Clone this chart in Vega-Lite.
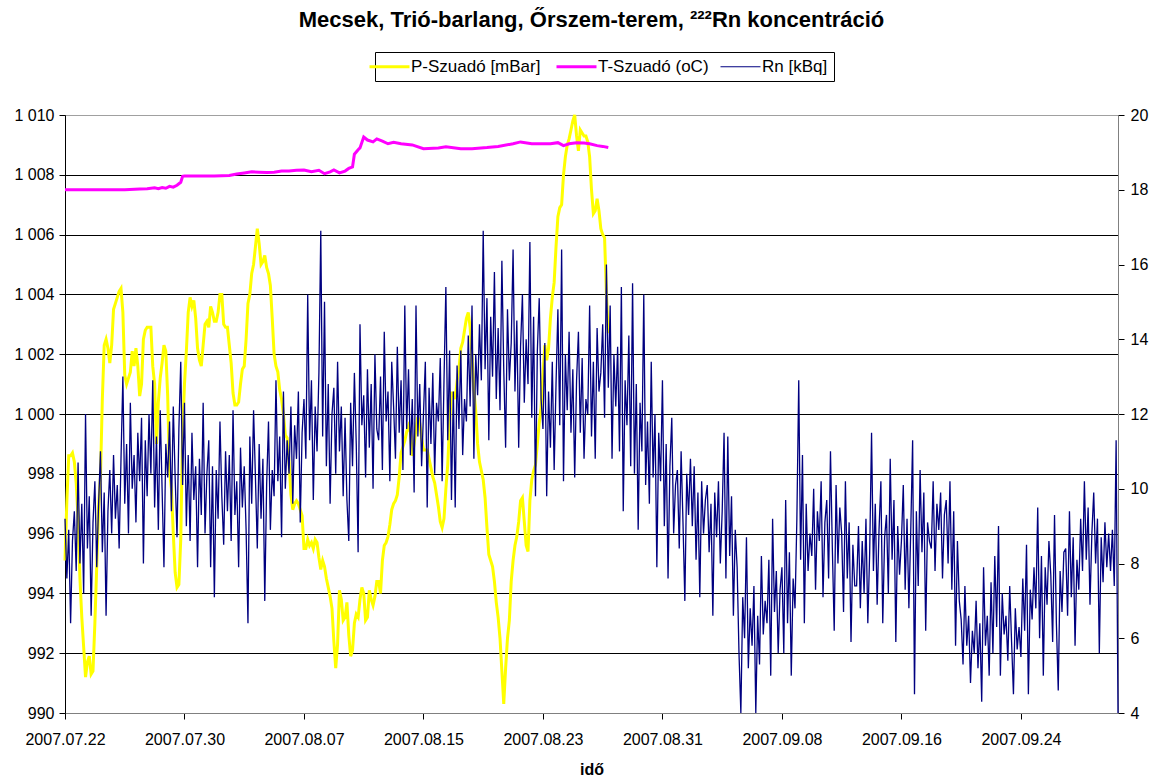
{
"$schema":"https://vega.github.io/schema/vega-lite/v6.json",
"width":1053,"height":598,
"autosize":{"type":"none"},
"padding":{"left":65,"top":115,"right":40,"bottom":68},
"background":"white",
"config":{
 "view":{"stroke":"#808080","strokeWidth":1},
 "font":"Liberation Sans",
 "axis":{"labelFont":"Liberation Sans","labelFontSize":16,"labelColor":"black","tickColor":"black","domainColor":"black","titleFont":"Liberation Sans","titleColor":"black"}
},
"title":{"text":"Mecsek, Trió-barlang, Őrszem-terem, ²²²Rn koncentráció","font":"Liberation Sans","fontSize":22,"fontWeight":"bold","color":"black","anchor":"middle","offset":20},
"data":{"values":[
{"t":"2007-07-22 00:00","rn":9.2,"p":995.1,"tc":18.0},{"t":"2007-07-22 03:00","rn":7.6,"p":997.1},{"t":"2007-07-22 06:00","rn":8.9,"p":998.6},{"t":"2007-07-22 09:00","rn":6.4,"p":998.6},{"t":"2007-07-22 12:00","rn":8.6,"p":998.7},{"t":"2007-07-22 15:00","rn":9.4,"p":998.4},{"t":"2007-07-22 18:00","rn":7.8,"p":997.7},{"t":"2007-07-22 21:00","rn":10.7,"p":996.5},
{"t":"2007-07-23 00:00","rn":8.0,"p":994.5},{"t":"2007-07-23 03:00","rn":9.6,"p":993.2},{"t":"2007-07-23 06:00","rn":7.2,"p":992.2},{"t":"2007-07-23 09:00","rn":12.0,"p":991.2},{"t":"2007-07-23 12:00","rn":8.4,"p":991.7},{"t":"2007-07-23 15:00","rn":9.8,"p":991.9},{"t":"2007-07-23 18:00","rn":6.6,"p":991.3},{"t":"2007-07-23 21:00","rn":9.1,"p":991.4},
{"t":"2007-07-24 00:00","rn":10.2,"p":993.0,"tc":18.0},{"t":"2007-07-24 03:00","rn":7.9,"p":994.9},{"t":"2007-07-24 06:00","rn":9.6,"p":996.9},{"t":"2007-07-24 09:00","rn":11.0,"p":997.9},{"t":"2007-07-24 12:00","rn":8.3,"p":1000.5},{"t":"2007-07-24 15:00","rn":9.9,"p":1002.3},{"t":"2007-07-24 18:00","rn":6.6,"p":1002.5},{"t":"2007-07-24 21:00","rn":9.4,"p":1002.2},
{"t":"2007-07-25 00:00","rn":10.5,"p":1001.7},{"t":"2007-07-25 03:00","rn":8.8,"p":1002.3},{"t":"2007-07-25 06:00","rn":10.9,"p":1003.5},{"t":"2007-07-25 09:00","rn":9.2,"p":1003.7},{"t":"2007-07-25 12:00","rn":10.1,"p":1003.9},{"t":"2007-07-25 15:00","rn":8.4,"p":1004.1},{"t":"2007-07-25 18:00","rn":10.8,"p":1004.2},{"t":"2007-07-25 21:00","rn":13.0,"p":1003.4},
{"t":"2007-07-26 00:00","rn":9.6,"p":1001.3,"tc":18.0},{"t":"2007-07-26 03:00","rn":11.2,"p":1001.0},{"t":"2007-07-26 06:00","rn":8.8,"p":1001.2},{"t":"2007-07-26 09:00","rn":12.3,"p":1001.4},{"t":"2007-07-26 12:00","rn":10.0,"p":1002.1},{"t":"2007-07-26 15:00","rn":10.9,"p":1001.6},{"t":"2007-07-26 18:00","rn":9.1,"p":1002.2},{"t":"2007-07-26 21:00","rn":11.5,"p":1001.6},
{"t":"2007-07-27 00:00","rn":10.2,"p":1000.6,"tc":18.02},{"t":"2007-07-27 03:00","rn":11.9,"p":1001.0},{"t":"2007-07-27 06:00","rn":8.0,"p":1002.5},{"t":"2007-07-27 09:00","rn":11.3,"p":1002.8},{"t":"2007-07-27 12:00","rn":9.8,"p":1002.9,"tc":18.03},{"t":"2007-07-27 15:00","rn":12.0,"p":1002.9},{"t":"2007-07-27 18:00","rn":10.4,"p":1002.9},{"t":"2007-07-27 21:00","rn":12.9,"p":1001.6},
{"t":"2007-07-28 00:00","rn":9.5,"p":1001.0,"tc":18.05},{"t":"2007-07-28 03:00","rn":11.4,"p":999.0},{"t":"2007-07-28 06:00","rn":8.9,"p":1000.4,"tc":18.03},{"t":"2007-07-28 09:00","rn":12.1,"p":1001.2},{"t":"2007-07-28 12:00","rn":10.0,"p":1001.7,"tc":18.06},{"t":"2007-07-28 15:00","rn":7.9,"p":1002.3},{"t":"2007-07-28 18:00","rn":11.2,"p":1002.1,"tc":18.04},{"t":"2007-07-28 21:00","rn":10.3,"p":1000.6},
{"t":"2007-07-29 00:00","rn":11.8,"p":998.1,"tc":18.09},{"t":"2007-07-29 03:00","rn":9.4,"p":997.5},{"t":"2007-07-29 06:00","rn":12.2,"p":996.0,"tc":18.07},{"t":"2007-07-29 09:00","rn":10.3,"p":994.7},{"t":"2007-07-29 12:00","rn":8.7,"p":994.2,"tc":18.12},{"t":"2007-07-29 15:00","rn":11.6,"p":994.3},{"t":"2007-07-29 18:00","rn":13.4,"p":995.8,"tc":18.2},{"t":"2007-07-29 21:00","rn":10.1,"p":999.4,"tc":18.36},
{"t":"2007-07-30 00:00","rn":12.3,"p":1001.0,"tc":18.37},{"t":"2007-07-30 03:00","rn":9.0,"p":1002.1},{"t":"2007-07-30 06:00","rn":10.9,"p":1003.4},{"t":"2007-07-30 09:00","rn":8.6,"p":1003.9},{"t":"2007-07-30 12:00","rn":11.5,"p":1003.6},{"t":"2007-07-30 15:00","rn":9.7,"p":1003.8},{"t":"2007-07-30 18:00","rn":10.6,"p":1003.2},{"t":"2007-07-30 21:00","rn":7.9,"p":1002.2},
{"t":"2007-07-31 00:00","rn":10.8,"p":1001.8,"tc":18.37},{"t":"2007-07-31 03:00","rn":9.3,"p":1001.6},{"t":"2007-07-31 06:00","rn":12.3,"p":1002.3},{"t":"2007-07-31 09:00","rn":8.8,"p":1003.0},{"t":"2007-07-31 12:00","rn":10.4,"p":1003.1},{"t":"2007-07-31 15:00","rn":11.3,"p":1002.9},{"t":"2007-07-31 18:00","rn":7.9,"p":1003.6},{"t":"2007-07-31 21:00","rn":10.6,"p":1003.4},
{"t":"2007-08-01 00:00","rn":7.1,"p":1003.1,"tc":18.37},{"t":"2007-08-01 03:00","rn":10.5,"p":1003.1},{"t":"2007-08-01 06:00","rn":9.2,"p":1003.4},{"t":"2007-08-01 09:00","rn":11.8,"p":1004.0},{"t":"2007-08-01 12:00","rn":9.8,"p":1004.0},{"t":"2007-08-01 15:00","rn":8.5,"p":1003.0},{"t":"2007-08-01 18:00","rn":11.0,"p":1002.9},{"t":"2007-08-01 21:00","rn":9.4,"p":1002.9},
{"t":"2007-08-02 00:00","rn":10.9,"p":1002.3,"tc":18.38},{"t":"2007-08-02 03:00","rn":8.6,"p":1001.7},{"t":"2007-08-02 06:00","rn":12.1,"p":1000.7},{"t":"2007-08-02 09:00","rn":9.3,"p":1000.3},{"t":"2007-08-02 12:00","rn":10.2,"p":1000.3,"tc":18.42},{"t":"2007-08-02 15:00","rn":7.9,"p":1000.4},{"t":"2007-08-02 18:00","rn":11.1,"p":1001.0},{"t":"2007-08-02 21:00","rn":9.5,"p":1001.5},
{"t":"2007-08-03 00:00","rn":10.6,"p":1001.6,"tc":18.45},{"t":"2007-08-03 03:00","rn":8.9,"p":1002.5},{"t":"2007-08-03 06:00","rn":6.4,"p":1003.7},{"t":"2007-08-03 09:00","rn":11.4,"p":1004.0},{"t":"2007-08-03 12:00","rn":9.6,"p":1004.7,"tc":18.48},{"t":"2007-08-03 15:00","rn":12.1,"p":1005.0},{"t":"2007-08-03 18:00","rn":10.3,"p":1005.6},{"t":"2007-08-03 21:00","rn":8.4,"p":1006.2},
{"t":"2007-08-04 00:00","rn":11.2,"p":1005.7,"tc":18.47},{"t":"2007-08-04 03:00","rn":9.2,"p":1005.0},{"t":"2007-08-04 06:00","rn":10.8,"p":1005.1},{"t":"2007-08-04 09:00","rn":7.0,"p":1005.3},{"t":"2007-08-04 12:00","rn":10.1,"p":1004.9,"tc":18.46},{"t":"2007-08-04 15:00","rn":11.8,"p":1004.7},{"t":"2007-08-04 18:00","rn":8.9,"p":1004.3},{"t":"2007-08-04 21:00","rn":10.5,"p":1003.2},
{"t":"2007-08-05 00:00","rn":9.8,"p":1002.0,"tc":18.47},{"t":"2007-08-05 03:00","rn":12.9,"p":1001.6},{"t":"2007-08-05 06:00","rn":10.2,"p":1001.4},{"t":"2007-08-05 09:00","rn":11.4,"p":1000.8},{"t":"2007-08-05 12:00","rn":8.7,"p":1000.5,"tc":18.5},{"t":"2007-08-05 15:00","rn":12.6,"p":1000.0},{"t":"2007-08-05 18:00","rn":10.0,"p":999.3},{"t":"2007-08-05 21:00","rn":11.3,"p":999.2},
{"t":"2007-08-06 00:00","rn":10.4,"p":998.4,"tc":18.5},{"t":"2007-08-06 03:00","rn":12.2,"p":997.3},{"t":"2007-08-06 06:00","rn":9.6,"p":996.8},{"t":"2007-08-06 09:00","rn":11.7,"p":997.0},{"t":"2007-08-06 12:00","rn":10.8,"p":997.1,"tc":18.52},{"t":"2007-08-06 15:00","rn":12.6,"p":997.0},{"t":"2007-08-06 18:00","rn":9.1,"p":996.8},{"t":"2007-08-06 21:00","rn":11.5,"p":996.6},
{"t":"2007-08-07 00:00","rn":12.4,"p":995.5,"tc":18.53},{"t":"2007-08-07 03:00","rn":10.8,"p":995.5},{"t":"2007-08-07 06:00","rn":15.2,"p":995.8},{"t":"2007-08-07 09:00","rn":11.3,"p":995.6},{"t":"2007-08-07 12:00","rn":12.9,"p":995.7,"tc":18.48},{"t":"2007-08-07 15:00","rn":9.7,"p":995.5},{"t":"2007-08-07 18:00","rn":12.2,"p":995.8},{"t":"2007-08-07 21:00","rn":11.0,"p":995.7},
{"t":"2007-08-08 00:00","rn":13.1,"p":995.2,"tc":18.52},{"t":"2007-08-08 03:00","rn":16.9,"p":994.8},{"t":"2007-08-08 06:00","rn":11.4,"p":995.1},{"t":"2007-08-08 09:00","rn":15.0,"p":994.9,"tc":18.43},{"t":"2007-08-08 12:00","rn":10.6,"p":994.5},{"t":"2007-08-08 15:00","rn":12.8,"p":994.2},{"t":"2007-08-08 18:00","rn":9.6,"p":993.9,"tc":18.48},{"t":"2007-08-08 21:00","rn":12.0,"p":993.5},
{"t":"2007-08-09 00:00","rn":12.7,"p":992.4,"tc":18.53},{"t":"2007-08-09 03:00","rn":10.4,"p":991.5},{"t":"2007-08-09 06:00","rn":13.4,"p":992.3},{"t":"2007-08-09 09:00","rn":11.0,"p":994.1,"tc":18.45},{"t":"2007-08-09 12:00","rn":12.2,"p":993.8},{"t":"2007-08-09 15:00","rn":9.8,"p":993.1},{"t":"2007-08-09 18:00","rn":11.9,"p":993.2,"tc":18.5},{"t":"2007-08-09 21:00","rn":9.7,"p":993.7},
{"t":"2007-08-10 00:00","rn":8.6,"p":992.6,"tc":18.57},{"t":"2007-08-10 03:00","rn":12.3,"p":991.9},{"t":"2007-08-10 06:00","rn":10.6,"p":992.1,"tc":18.61},{"t":"2007-08-10 09:00","rn":13.1,"p":993.0,"tc":18.95},{"t":"2007-08-10 12:00","rn":11.2,"p":993.3},{"t":"2007-08-10 15:00","rn":8.3,"p":993.2,"tc":19.07},{"t":"2007-08-10 18:00","rn":14.4,"p":993.8,"tc":19.12},{"t":"2007-08-10 21:00","rn":11.7,"p":994.2},
{"t":"2007-08-11 00:00","rn":12.5,"p":994.0,"tc":19.41},{"t":"2007-08-11 03:00","rn":10.3,"p":993.1},{"t":"2007-08-11 06:00","rn":13.2,"p":993.2,"tc":19.33},{"t":"2007-08-11 09:00","rn":11.1,"p":994.1},{"t":"2007-08-11 12:00","rn":12.8,"p":993.8},{"t":"2007-08-11 15:00","rn":10.0,"p":993.6,"tc":19.28},{"t":"2007-08-11 18:00","rn":13.6,"p":993.9},{"t":"2007-08-11 21:00","rn":11.6,"p":994.4,"tc":19.36},
{"t":"2007-08-12 00:00","rn":11.3,"p":994.4},{"t":"2007-08-12 03:00","rn":13.0,"p":994.0},{"t":"2007-08-12 06:00","rn":10.5,"p":995.1,"tc":19.3},{"t":"2007-08-12 09:00","rn":14.2,"p":995.6},{"t":"2007-08-12 12:00","rn":11.8,"p":995.7},{"t":"2007-08-12 15:00","rn":12.6,"p":995.9,"tc":19.23},{"t":"2007-08-12 18:00","rn":10.2,"p":996.3},{"t":"2007-08-12 21:00","rn":13.4,"p":996.8},
{"t":"2007-08-13 00:00","rn":12.2,"p":997.0,"tc":19.27},{"t":"2007-08-13 03:00","rn":10.8,"p":997.1},{"t":"2007-08-13 06:00","rn":13.8,"p":997.3},{"t":"2007-08-13 09:00","rn":11.5,"p":997.9},{"t":"2007-08-13 12:00","rn":12.9,"p":998.7,"tc":19.23},{"t":"2007-08-13 15:00","rn":10.5,"p":998.9},{"t":"2007-08-13 18:00","rn":14.9,"p":999.1},{"t":"2007-08-13 21:00","rn":11.6,"p":999.4},
{"t":"2007-08-14 00:00","rn":13.2,"p":999.6},{"t":"2007-08-14 03:00","rn":10.9,"p":999.4},{"t":"2007-08-14 06:00","rn":12.4,"p":998.6,"tc":19.2},{"t":"2007-08-14 09:00","rn":9.9,"p":999.0},{"t":"2007-08-14 12:00","rn":14.9,"p":999.5},{"t":"2007-08-14 15:00","rn":11.4,"p":999.9},{"t":"2007-08-14 18:00","rn":12.8,"p":999.7},{"t":"2007-08-14 21:00","rn":10.6,"p":999.2},
{"t":"2007-08-15 00:00","rn":12.0,"p":998.8,"tc":19.1},{"t":"2007-08-15 03:00","rn":13.4,"p":998.8},{"t":"2007-08-15 06:00","rn":9.5,"p":998.8},{"t":"2007-08-15 09:00","rn":12.7,"p":998.5},{"t":"2007-08-15 12:00","rn":11.2,"p":998.2},{"t":"2007-08-15 15:00","rn":13.1,"p":997.9},{"t":"2007-08-15 18:00","rn":10.4,"p":997.7},{"t":"2007-08-15 21:00","rn":12.3,"p":997.3},
{"t":"2007-08-16 00:00","rn":11.8,"p":996.9,"tc":19.12},{"t":"2007-08-16 03:00","rn":13.5,"p":996.4},{"t":"2007-08-16 06:00","rn":10.2,"p":996.2},{"t":"2007-08-16 09:00","rn":12.9,"p":996.5},{"t":"2007-08-16 12:00","rn":15.4,"p":997.5,"tc":19.15},{"t":"2007-08-16 15:00","rn":11.3,"p":998.3},{"t":"2007-08-16 18:00","rn":13.7,"p":999.7},{"t":"2007-08-16 21:00","rn":9.7,"p":1000.7},
{"t":"2007-08-17 00:00","rn":12.6,"p":1000.7},{"t":"2007-08-17 03:00","rn":9.5,"p":1000.5},{"t":"2007-08-17 06:00","rn":13.3,"p":1001.1},{"t":"2007-08-17 09:00","rn":11.6,"p":1001.5},{"t":"2007-08-17 12:00","rn":13.7,"p":1002.2,"tc":19.1},{"t":"2007-08-17 15:00","rn":10.9,"p":1002.4},{"t":"2007-08-17 18:00","rn":12.4,"p":1002.8},{"t":"2007-08-17 21:00","rn":11.8,"p":1003.2},
{"t":"2007-08-18 00:00","rn":14.1,"p":1003.4},{"t":"2007-08-18 03:00","rn":12.2,"p":1002.9},{"t":"2007-08-18 06:00","rn":14.9,"p":1001.9,"tc":19.1},{"t":"2007-08-18 09:00","rn":10.8,"p":1000.8},{"t":"2007-08-18 12:00","rn":13.6,"p":1000.1},{"t":"2007-08-18 15:00","rn":12.5,"p":999.0},{"t":"2007-08-18 18:00","rn":14.4,"p":998.4},{"t":"2007-08-18 21:00","rn":12.9,"p":998.1},
{"t":"2007-08-19 00:00","rn":16.9,"p":997.8},{"t":"2007-08-19 03:00","rn":13.2,"p":997.2},{"t":"2007-08-19 06:00","rn":15.1,"p":996.2,"tc":19.13},{"t":"2007-08-19 09:00","rn":11.3,"p":995.3},{"t":"2007-08-19 12:00","rn":14.6,"p":995.1},{"t":"2007-08-19 15:00","rn":13.0,"p":994.9},{"t":"2007-08-19 18:00","rn":15.8,"p":994.4},{"t":"2007-08-19 21:00","rn":12.4,"p":993.7},
{"t":"2007-08-20 00:00","rn":14.3,"p":993.2,"tc":19.16},{"t":"2007-08-20 03:00","rn":12.1,"p":992.5},{"t":"2007-08-20 06:00","rn":16.1,"p":991.4},{"t":"2007-08-20 09:00","rn":13.2,"p":990.3},{"t":"2007-08-20 12:00","rn":11.1,"p":991.5},{"t":"2007-08-20 15:00","rn":14.8,"p":992.5},{"t":"2007-08-20 18:00","rn":12.9,"p":993.1},{"t":"2007-08-20 21:00","rn":13.9,"p":994.4},
{"t":"2007-08-21 00:00","rn":16.4,"p":995.1,"tc":19.23},{"t":"2007-08-21 03:00","rn":12.6,"p":995.6},{"t":"2007-08-21 06:00","rn":14.5,"p":995.9},{"t":"2007-08-21 09:00","rn":11.1,"p":996.4},{"t":"2007-08-21 12:00","rn":13.8,"p":997.1,"tc":19.28},{"t":"2007-08-21 15:00","rn":15.2,"p":997.2},{"t":"2007-08-21 18:00","rn":12.3,"p":996.4},{"t":"2007-08-21 21:00","rn":14.0,"p":995.6},
{"t":"2007-08-22 00:00","rn":12.8,"p":995.4},{"t":"2007-08-22 03:00","rn":16.6,"p":997.1},{"t":"2007-08-22 06:00","rn":11.9,"p":997.8,"tc":19.23},{"t":"2007-08-22 09:00","rn":14.6,"p":998.1},{"t":"2007-08-22 12:00","rn":9.8,"p":998.3},{"t":"2007-08-22 15:00","rn":13.7,"p":999.0},{"t":"2007-08-22 18:00","rn":15.1,"p":999.7},{"t":"2007-08-22 21:00","rn":12.4,"p":1000.2},
{"t":"2007-08-23 00:00","rn":11.6,"p":1001.3},{"t":"2007-08-23 03:00","rn":13.9,"p":1002.3},{"t":"2007-08-23 06:00","rn":9.8,"p":1001.8},{"t":"2007-08-23 09:00","rn":12.6,"p":1002.2},{"t":"2007-08-23 12:00","rn":11.1,"p":1003.2,"tc":19.23},{"t":"2007-08-23 15:00","rn":13.4,"p":1003.9},{"t":"2007-08-23 18:00","rn":10.5,"p":1004.4},{"t":"2007-08-23 21:00","rn":12.8,"p":1005.6},
{"t":"2007-08-24 00:00","rn":14.8,"p":1006.6,"tc":19.26},{"t":"2007-08-24 03:00","rn":11.7,"p":1006.9},{"t":"2007-08-24 06:00","rn":16.4,"p":1007.0},{"t":"2007-08-24 09:00","rn":10.2,"p":1008.0,"tc":19.18},{"t":"2007-08-24 12:00","rn":13.6,"p":1008.6},{"t":"2007-08-24 15:00","rn":12.1,"p":1009.0},{"t":"2007-08-24 18:00","rn":14.2,"p":1009.2,"tc":19.23},{"t":"2007-08-24 21:00","rn":11.5,"p":1009.5},
{"t":"2007-08-25 00:00","rn":13.2,"p":1009.8},{"t":"2007-08-25 03:00","rn":10.3,"p":1010.0},{"t":"2007-08-25 06:00","rn":12.9,"p":1009.3,"tc":19.26},{"t":"2007-08-25 09:00","rn":14.2,"p":1008.8},{"t":"2007-08-25 12:00","rn":11.5,"p":1009.5},{"t":"2007-08-25 15:00","rn":13.5,"p":1009.4},{"t":"2007-08-25 18:00","rn":10.8,"p":1009.3,"tc":19.25},{"t":"2007-08-25 21:00","rn":12.4,"p":1009.3},
{"t":"2007-08-26 00:00","rn":12.0,"p":1009.1},{"t":"2007-08-26 03:00","rn":14.9,"p":1008.6,"tc":19.23},{"t":"2007-08-26 06:00","rn":11.4,"p":1007.5},{"t":"2007-08-26 09:00","rn":13.4,"p":1006.7},{"t":"2007-08-26 12:00","rn":10.8,"p":1006.8},{"t":"2007-08-26 15:00","rn":14.3,"p":1007.2,"tc":19.18},{"t":"2007-08-26 18:00","rn":12.6,"p":1006.8},{"t":"2007-08-26 21:00","rn":13.1,"p":1006.2},
{"t":"2007-08-27 00:00","rn":14.4,"p":1006.0,"tc":19.16},{"t":"2007-08-27 03:00","rn":11.9,"p":1005.9},{"t":"2007-08-27 06:00","rn":16.0,"p":1004.0},{"t":"2007-08-27 09:00","rn":12.7,"p":1002.7,"tc":19.13},{"t":"2007-08-27 12:00","rn":14.9},{"t":"2007-08-27 15:00","rn":10.8},{"t":"2007-08-27 18:00","rn":13.6},{"t":"2007-08-27 21:00","rn":12.2},
{"t":"2007-08-28 00:00","rn":13.8},{"t":"2007-08-28 03:00","rn":11.0},{"t":"2007-08-28 06:00","rn":15.4},{"t":"2007-08-28 09:00","rn":9.4},{"t":"2007-08-28 12:00","rn":12.9},{"t":"2007-08-28 15:00","rn":11.7},{"t":"2007-08-28 18:00","rn":14.1},{"t":"2007-08-28 21:00","rn":10.6},
{"t":"2007-08-29 00:00","rn":15.5},{"t":"2007-08-29 03:00","rn":10.4},{"t":"2007-08-29 06:00","rn":12.8},{"t":"2007-08-29 09:00","rn":8.9},{"t":"2007-08-29 12:00","rn":12.3},{"t":"2007-08-29 15:00","rn":11.0},{"t":"2007-08-29 18:00","rn":15.2},{"t":"2007-08-29 21:00","rn":10.1},
{"t":"2007-08-30 00:00","rn":11.8},{"t":"2007-08-30 03:00","rn":9.6},{"t":"2007-08-30 06:00","rn":13.4},{"t":"2007-08-30 09:00","rn":10.3},{"t":"2007-08-30 12:00","rn":12.0},{"t":"2007-08-30 15:00","rn":7.9},{"t":"2007-08-30 18:00","rn":11.5},{"t":"2007-08-30 21:00","rn":10.2},
{"t":"2007-08-31 00:00","rn":12.9},{"t":"2007-08-31 03:00","rn":9.0},{"t":"2007-08-31 06:00","rn":11.2},{"t":"2007-08-31 09:00","rn":7.6},{"t":"2007-08-31 12:00","rn":10.6},{"t":"2007-08-31 15:00","rn":11.9},{"t":"2007-08-31 18:00","rn":8.8},{"t":"2007-08-31 21:00","rn":10.1},
{"t":"2007-09-01 00:00","rn":10.5},{"t":"2007-09-01 03:00","rn":8.4},{"t":"2007-09-01 06:00","rn":11.0},{"t":"2007-09-01 09:00","rn":9.1},{"t":"2007-09-01 12:00","rn":7.0},{"t":"2007-09-01 15:00","rn":10.4},{"t":"2007-09-01 18:00","rn":9.3},{"t":"2007-09-01 21:00","rn":10.8},
{"t":"2007-09-02 00:00","rn":9.0},{"t":"2007-09-02 03:00","rn":10.6},{"t":"2007-09-02 06:00","rn":8.1},{"t":"2007-09-02 09:00","rn":9.9},{"t":"2007-09-02 12:00","rn":7.1},{"t":"2007-09-02 15:00","rn":10.2},{"t":"2007-09-02 18:00","rn":8.8},{"t":"2007-09-02 21:00","rn":9.7},
{"t":"2007-09-03 00:00","rn":10.1},{"t":"2007-09-03 03:00","rn":8.3},{"t":"2007-09-03 06:00","rn":9.6},{"t":"2007-09-03 09:00","rn":6.6},{"t":"2007-09-03 12:00","rn":9.9},{"t":"2007-09-03 15:00","rn":8.7},{"t":"2007-09-03 18:00","rn":10.2},{"t":"2007-09-03 21:00","rn":8.0},
{"t":"2007-09-04 00:00","rn":9.4},{"t":"2007-09-04 03:00","rn":11.5},{"t":"2007-09-04 06:00","rn":7.6},{"t":"2007-09-04 09:00","rn":11.4},{"t":"2007-09-04 12:00","rn":8.2},{"t":"2007-09-04 15:00","rn":9.8},{"t":"2007-09-04 18:00","rn":6.6},{"t":"2007-09-04 21:00","rn":8.9},
{"t":"2007-09-05 00:00","rn":7.9},{"t":"2007-09-05 03:00","rn":5.6},{"t":"2007-09-05 06:00","rn":4.0},{"t":"2007-09-05 09:00","rn":7.1},{"t":"2007-09-05 12:00","rn":6.0},{"t":"2007-09-05 15:00","rn":8.7},{"t":"2007-09-05 18:00","rn":5.2},{"t":"2007-09-05 21:00","rn":6.8},
{"t":"2007-09-06 00:00","rn":5.8},{"t":"2007-09-06 03:00","rn":7.4},{"t":"2007-09-06 06:00","rn":4.0},{"t":"2007-09-06 09:00","rn":6.6},{"t":"2007-09-06 12:00","rn":5.3},{"t":"2007-09-06 15:00","rn":8.2},{"t":"2007-09-06 18:00","rn":6.1},{"t":"2007-09-06 21:00","rn":7.0},
{"t":"2007-09-07 00:00","rn":6.4},{"t":"2007-09-07 03:00","rn":8.1},{"t":"2007-09-07 06:00","rn":5.0},{"t":"2007-09-07 09:00","rn":9.2},{"t":"2007-09-07 12:00","rn":6.7},{"t":"2007-09-07 15:00","rn":7.8},{"t":"2007-09-07 18:00","rn":5.6},{"t":"2007-09-07 21:00","rn":7.3},
{"t":"2007-09-08 00:00","rn":7.9},{"t":"2007-09-08 03:00","rn":5.6},{"t":"2007-09-08 06:00","rn":9.7},{"t":"2007-09-08 09:00","rn":6.4},{"t":"2007-09-08 12:00","rn":8.3},{"t":"2007-09-08 15:00","rn":5.0},{"t":"2007-09-08 18:00","rn":7.6},{"t":"2007-09-08 21:00","rn":6.8},
{"t":"2007-09-09 00:00","rn":9.2},{"t":"2007-09-09 03:00","rn":12.9},{"t":"2007-09-09 06:00","rn":8.1},{"t":"2007-09-09 09:00","rn":10.9},{"t":"2007-09-09 12:00","rn":6.4},{"t":"2007-09-09 15:00","rn":9.6},{"t":"2007-09-09 18:00","rn":7.8},{"t":"2007-09-09 21:00","rn":8.8},
{"t":"2007-09-10 00:00","rn":8.2},{"t":"2007-09-10 03:00","rn":10.0},{"t":"2007-09-10 06:00","rn":7.3},{"t":"2007-09-10 09:00","rn":9.4},{"t":"2007-09-10 12:00","rn":8.6},{"t":"2007-09-10 15:00","rn":10.2},{"t":"2007-09-10 18:00","rn":7.1},{"t":"2007-09-10 21:00","rn":9.1},
{"t":"2007-09-11 00:00","rn":9.7},{"t":"2007-09-11 03:00","rn":7.6},{"t":"2007-09-11 06:00","rn":11.0},{"t":"2007-09-11 09:00","rn":8.4},{"t":"2007-09-11 12:00","rn":6.2},{"t":"2007-09-11 15:00","rn":10.1},{"t":"2007-09-11 18:00","rn":8.0},{"t":"2007-09-11 21:00","rn":9.5},
{"t":"2007-09-12 00:00","rn":8.8},{"t":"2007-09-12 03:00","rn":6.7},{"t":"2007-09-12 06:00","rn":10.2},{"t":"2007-09-12 09:00","rn":7.6},{"t":"2007-09-12 12:00","rn":9.1},{"t":"2007-09-12 15:00","rn":5.9},{"t":"2007-09-12 18:00","rn":8.5},{"t":"2007-09-12 21:00","rn":7.4},
{"t":"2007-09-13 00:00","rn":7.4},{"t":"2007-09-13 03:00","rn":9.0},{"t":"2007-09-13 06:00","rn":6.8},{"t":"2007-09-13 09:00","rn":8.6},{"t":"2007-09-13 12:00","rn":7.2},{"t":"2007-09-13 15:00","rn":9.2},{"t":"2007-09-13 18:00","rn":6.4},{"t":"2007-09-13 21:00","rn":8.3},
{"t":"2007-09-14 00:00","rn":11.5},{"t":"2007-09-14 03:00","rn":7.8},{"t":"2007-09-14 06:00","rn":9.6},{"t":"2007-09-14 09:00","rn":6.9},{"t":"2007-09-14 12:00","rn":8.9},{"t":"2007-09-14 15:00","rn":10.2},{"t":"2007-09-14 18:00","rn":6.4},{"t":"2007-09-14 21:00","rn":8.7},
{"t":"2007-09-15 00:00","rn":9.3},{"t":"2007-09-15 03:00","rn":7.2},{"t":"2007-09-15 06:00","rn":10.8},{"t":"2007-09-15 09:00","rn":8.1},{"t":"2007-09-15 12:00","rn":9.7},{"t":"2007-09-15 15:00","rn":5.9},{"t":"2007-09-15 18:00","rn":9.0},{"t":"2007-09-15 21:00","rn":7.7},
{"t":"2007-09-16 00:00","rn":8.6},{"t":"2007-09-16 03:00","rn":10.1},{"t":"2007-09-16 06:00","rn":7.3},{"t":"2007-09-16 09:00","rn":9.2},{"t":"2007-09-16 12:00","rn":6.8},{"t":"2007-09-16 15:00","rn":8.9},{"t":"2007-09-16 18:00","rn":11.3},{"t":"2007-09-16 21:00","rn":4.5},
{"t":"2007-09-17 00:00","rn":9.4},{"t":"2007-09-17 03:00","rn":7.4},{"t":"2007-09-17 06:00","rn":10.5},{"t":"2007-09-17 09:00","rn":8.3},{"t":"2007-09-17 12:00","rn":9.9},{"t":"2007-09-17 15:00","rn":6.2},{"t":"2007-09-17 18:00","rn":9.1},{"t":"2007-09-17 21:00","rn":8.6},
{"t":"2007-09-18 00:00","rn":8.4},{"t":"2007-09-18 03:00","rn":10.2},{"t":"2007-09-18 06:00","rn":7.8},{"t":"2007-09-18 09:00","rn":9.6},{"t":"2007-09-18 12:00","rn":8.9},{"t":"2007-09-18 15:00","rn":9.9},{"t":"2007-09-18 18:00","rn":7.6},{"t":"2007-09-18 21:00","rn":9.3},
{"t":"2007-09-19 00:00","rn":9.7},{"t":"2007-09-19 03:00","rn":8.0},{"t":"2007-09-19 06:00","rn":10.2},{"t":"2007-09-19 09:00","rn":7.3},{"t":"2007-09-19 12:00","rn":9.4},{"t":"2007-09-19 15:00","rn":5.8},{"t":"2007-09-19 18:00","rn":8.6},{"t":"2007-09-19 21:00","rn":7.0},
{"t":"2007-09-20 00:00","rn":6.5},{"t":"2007-09-20 03:00","rn":5.3},{"t":"2007-09-20 06:00","rn":7.4},{"t":"2007-09-20 09:00","rn":5.8},{"t":"2007-09-20 12:00","rn":6.6},{"t":"2007-09-20 15:00","rn":4.8},{"t":"2007-09-20 18:00","rn":6.2},{"t":"2007-09-20 21:00","rn":5.6},
{"t":"2007-09-21 00:00","rn":7.0},{"t":"2007-09-21 03:00","rn":5.2},{"t":"2007-09-21 06:00","rn":6.4},{"t":"2007-09-21 09:00","rn":4.3},{"t":"2007-09-21 12:00","rn":7.9},{"t":"2007-09-21 15:00","rn":5.8},{"t":"2007-09-21 18:00","rn":6.6},{"t":"2007-09-21 21:00","rn":5.0},
{"t":"2007-09-22 00:00","rn":7.5},{"t":"2007-09-22 03:00","rn":5.6},{"t":"2007-09-22 06:00","rn":8.2},{"t":"2007-09-22 09:00","rn":6.3},{"t":"2007-09-22 12:00","rn":9.0},{"t":"2007-09-22 15:00","rn":5.0},{"t":"2007-09-22 18:00","rn":7.2},{"t":"2007-09-22 21:00","rn":6.1},
{"t":"2007-09-23 00:00","rn":6.6},{"t":"2007-09-23 03:00","rn":5.4},{"t":"2007-09-23 06:00","rn":7.4},{"t":"2007-09-23 09:00","rn":5.9},{"t":"2007-09-23 12:00","rn":4.5},{"t":"2007-09-23 15:00","rn":6.8},{"t":"2007-09-23 18:00","rn":5.7},{"t":"2007-09-23 21:00","rn":6.3},
{"t":"2007-09-24 00:00","rn":5.5},{"t":"2007-09-24 03:00","rn":7.6},{"t":"2007-09-24 06:00","rn":6.2},{"t":"2007-09-24 09:00","rn":8.5},{"t":"2007-09-24 12:00","rn":4.5},{"t":"2007-09-24 15:00","rn":7.3},{"t":"2007-09-24 18:00","rn":6.5},{"t":"2007-09-24 21:00","rn":7.9},
{"t":"2007-09-25 00:00","rn":6.8},{"t":"2007-09-25 03:00","rn":9.5},{"t":"2007-09-25 06:00","rn":6.0},{"t":"2007-09-25 09:00","rn":8.2},{"t":"2007-09-25 12:00","rn":5.0},{"t":"2007-09-25 15:00","rn":7.9},{"t":"2007-09-25 18:00","rn":6.9},{"t":"2007-09-25 21:00","rn":8.6},
{"t":"2007-09-26 00:00","rn":7.7},{"t":"2007-09-26 03:00","rn":5.9},{"t":"2007-09-26 06:00","rn":9.3},{"t":"2007-09-26 09:00","rn":6.4},{"t":"2007-09-26 12:00","rn":4.6},{"t":"2007-09-26 15:00","rn":7.8},{"t":"2007-09-26 18:00","rn":6.7},{"t":"2007-09-26 21:00","rn":8.3},
{"t":"2007-09-27 00:00","rn":8.4},{"t":"2007-09-27 03:00","rn":6.6},{"t":"2007-09-27 06:00","rn":9.4},{"t":"2007-09-27 09:00","rn":7.1},{"t":"2007-09-27 12:00","rn":8.7},{"t":"2007-09-27 15:00","rn":5.8},{"t":"2007-09-27 18:00","rn":8.1},{"t":"2007-09-27 21:00","rn":7.3},
{"t":"2007-09-28 00:00","rn":9.2},{"t":"2007-09-28 03:00","rn":7.8},{"t":"2007-09-28 06:00","rn":10.2},{"t":"2007-09-28 09:00","rn":8.1},{"t":"2007-09-28 12:00","rn":9.5},{"t":"2007-09-28 15:00","rn":6.9},{"t":"2007-09-28 18:00","rn":8.8},{"t":"2007-09-28 21:00","rn":9.9},
{"t":"2007-09-29 00:00","rn":8.0},{"t":"2007-09-29 03:00","rn":9.2},{"t":"2007-09-29 06:00","rn":5.6},{"t":"2007-09-29 09:00","rn":8.7},{"t":"2007-09-29 12:00","rn":7.5},{"t":"2007-09-29 15:00","rn":9.1},{"t":"2007-09-29 18:00","rn":7.9},{"t":"2007-09-29 21:00","rn":8.8},
{"t":"2007-09-30 00:00","rn":7.8},{"t":"2007-09-30 03:00","rn":8.9},{"t":"2007-09-30 06:00","rn":7.4},{"t":"2007-09-30 09:00","rn":11.3},{"t":"2007-09-30 12:00","rn":4.0}
]},
"encoding":{
 "x":{"field":"t","type":"temporal",
  "scale":{"domain":[{"year":2007,"month":"jul","date":22},{"year":2007,"month":"sep","date":30,"hours":12}]},
  "axis":{"values":[{"year":2007,"month":"jul","date":22},{"year":2007,"month":"jul","date":30},{"year":2007,"month":"aug","date":7},{"year":2007,"month":"aug","date":15},{"year":2007,"month":"aug","date":23},{"year":2007,"month":"aug","date":31},{"year":2007,"month":"sep","date":8},{"year":2007,"month":"sep","date":16},{"year":2007,"month":"sep","date":24}],
   "format":"%Y.%m.%d","labelFlush":false,"labelOverlap":false,"tickSize":6,"labelPadding":12,"domainColor":"#808080","grid":false,
   "title":"idő","titleFontSize":16,"titleFontWeight":"bold","titlePadding":14}}
},
"layer":[
 {"transform":[{"filter":"isValid(datum.p)"}],
  "mark":{"type":"line","strokeWidth":3,"interpolate":"linear"},
  "encoding":{
   "y":{"field":"p","type":"quantitative","scale":{"domain":[990,1010],"zero":false,"nice":false},
    "axis":{"orient":"left","values":[990,992,994,996,998,1000,1002,1004,1006,1008,1010],"labelExpr":"replace(format(datum.value, ','), ',', ' ')","grid":true,"gridColor":{"condition":{"test":"datum.value === 1010","value":"#a0a0a0"},"value":"black"},"gridWidth":1,"tickSize":6,"labelPadding":5,"title":null}},
   "color":{"datum":"P-Szuadó [mBar]","type":"nominal",
    "scale":{"domain":["P-Szuadó [mBar]","T-Szuadó (oC)","Rn [kBq]"],"range":["#ffff00","#ff00ff","#000080"]},
    "legend":{"orient":"none","legendX":310,"legendY":-63,"direction":"horizontal","title":null,"strokeColor":"black","fillColor":"white","padding":6,"symbolType":"stroke","symbolSize":1600,"symbolStrokeWidth":3,"labelFont":"Liberation Sans","labelFontSize":17,"labelColor":"black","labelOffset":13,"columnPadding":9,"labelLimit":400,
     "encode":{"symbols":{"update":{"strokeWidth":{"signal":"datum.label === 'Rn [kBq]' ? 1 : 3"}}}}}}
  }},
 {"transform":[{"filter":"isValid(datum.tc)"}],
  "mark":{"type":"line","strokeWidth":3},
  "encoding":{
   "y":{"field":"tc","type":"quantitative","scale":{"domain":[4,20],"zero":false,"nice":false},"axis":null},
   "color":{"datum":"T-Szuadó (oC)","type":"nominal"}
  }},
 {"mark":{"type":"line","strokeWidth":1.3},
  "encoding":{
   "y":{"field":"rn","type":"quantitative","scale":{"domain":[4,20],"zero":false,"nice":false},
    "axis":{"orient":"right","values":[4,6,8,10,12,14,16,18,20],"grid":false,"tickSize":6,"labelPadding":6,"domainColor":"#808080","title":null}},
   "color":{"datum":"Rn [kBq]","type":"nominal"}
  }}
],
"resolve":{"scale":{"y":"independent"}}
}
